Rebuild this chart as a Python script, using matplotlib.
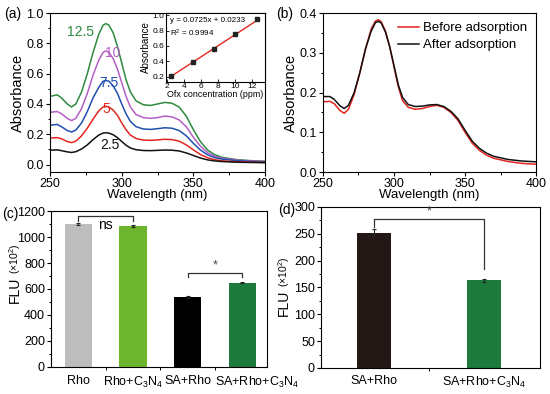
import matplotlib.pyplot as plt
import matplotlib.transforms as mtransforms
import numpy as np

plt.rcParams['font.family'] = ['Liberation Sans', 'DejaVu Sans']
plt.rcParams['mathtext.fontset'] = 'custom'
plt.rcParams['mathtext.rm'] = 'Liberation Sans'
plt.rcParams['mathtext.it'] = 'Liberation Sans'

# ---- data ----
wl = [250, 255, 258, 262, 265, 268, 272, 276, 280, 284, 287, 289, 291, 294, 297, 300,
      303, 306, 310, 315, 320, 325, 330, 335, 340, 345, 350, 355, 360, 365, 370, 380, 390, 400]

abs_12_5 = [0.45, 0.46, 0.44, 0.40, 0.38, 0.40, 0.48, 0.60, 0.74, 0.86, 0.92, 0.93, 0.92, 0.87, 0.78, 0.67,
            0.56, 0.48, 0.42, 0.395, 0.39, 0.40, 0.41, 0.405, 0.38, 0.32, 0.23, 0.15, 0.095, 0.065, 0.048, 0.033, 0.026, 0.022]
abs_10 = [0.345, 0.35, 0.335, 0.305, 0.29, 0.305, 0.37, 0.47, 0.59, 0.69, 0.74, 0.75, 0.74, 0.70, 0.63, 0.54,
          0.45, 0.38, 0.33, 0.31, 0.305, 0.31, 0.32, 0.315, 0.295, 0.25, 0.18, 0.12, 0.078, 0.055, 0.042, 0.03, 0.024, 0.02]
abs_7_5 = [0.26, 0.265, 0.25, 0.225, 0.215, 0.228, 0.275, 0.35, 0.44, 0.51, 0.55, 0.555, 0.55, 0.52, 0.47, 0.40,
           0.335, 0.285, 0.25, 0.235, 0.232, 0.237, 0.243, 0.24, 0.225, 0.19, 0.14, 0.095, 0.064, 0.046, 0.036, 0.026, 0.021, 0.018]
abs_5 = [0.175, 0.178, 0.17, 0.152, 0.145, 0.155, 0.19, 0.24, 0.30, 0.355, 0.38, 0.385, 0.38, 0.36, 0.325, 0.275,
         0.23, 0.195, 0.172, 0.162, 0.16, 0.163, 0.167, 0.165, 0.155, 0.13, 0.097, 0.066, 0.045, 0.032, 0.025, 0.019, 0.016, 0.014]
abs_2_5 = [0.095, 0.097, 0.092, 0.084, 0.08, 0.085, 0.103, 0.13, 0.165, 0.195, 0.208, 0.21, 0.208, 0.197, 0.178, 0.152,
           0.128, 0.11, 0.098, 0.093, 0.092, 0.094, 0.096, 0.095, 0.09, 0.077, 0.06, 0.043, 0.031, 0.024, 0.02, 0.016, 0.014, 0.013]

conc = [2.5, 5, 7.5, 10, 12.5]
conc_abs = [0.21, 0.385, 0.555, 0.75, 0.955]
slope, intercept = 0.0725, 0.0233

before = [0.177, 0.178, 0.172, 0.155, 0.148, 0.158, 0.195, 0.25, 0.31, 0.36, 0.38, 0.383, 0.378, 0.355, 0.315, 0.265,
          0.215, 0.18, 0.163, 0.158, 0.16, 0.165, 0.168, 0.163, 0.15, 0.13, 0.1, 0.073, 0.055, 0.043, 0.035, 0.027, 0.022, 0.02]
after = [0.19, 0.19, 0.183, 0.167, 0.16, 0.168, 0.2, 0.25, 0.31, 0.355, 0.376, 0.379, 0.375, 0.352, 0.315, 0.268,
         0.22, 0.188, 0.17, 0.165, 0.166, 0.169, 0.17, 0.165, 0.153, 0.134, 0.105, 0.078, 0.06, 0.048, 0.04, 0.032, 0.028, 0.026]

c_labels = ['Rho', 'Rho+C$_3$N$_4$', 'SA+Rho', 'SA+Rho+C$_3$N$_4$']
c_vals = [1100, 1085, 540, 648]
c_err = [8, 10, 8, 5]
c_colors = ['#bdbdbd', '#6cb52d', '#000000', '#1b7a3c']

d_labels = ['SA+Rho', 'SA+Rho+C$_3$N$_4$']
d_vals = [252, 163]
d_err = [7, 3]
d_colors = ['#231815', '#1b7a3c']

fig = plt.figure(figsize=(5.5, 3.94), dpi=100)
W, H = 550.0, 394.0

def style(ax):
    ax.tick_params(direction='out', length=3, width=0.8, labelsize=9, pad=1.5)
    ax.tick_params(which='minor', direction='out', length=1.8, width=0.7)
    for s in ax.spines.values():
        s.set_linewidth(0.8)

def flu_label(xpx, ypx_flu, ypx_exp):
    # "FLU" plus a smaller "(x10^2)", stacked along the rotated label
    fig.text(xpx / W, 1 - ypx_flu / H, 'FLU', rotation=90, fontsize=10, ha='center', va='center')
    fig.text(xpx / W, 1 - ypx_exp / H, '(×10$^2$)', rotation=90, fontsize=7.5, ha='center', va='center')

# (a)
ax1 = fig.add_axes([0.091, 0.563, 0.391, 0.404])
curves = [(abs_12_5, '#2e8b3f', '12.5', 271.5, 0.874),
          (abs_10, '#b45fc4', '10', 294, 0.735),
          (abs_7_5, '#1f4fb0', '7.5', 291, 0.535),
          (abs_5, '#e3261f', '5', 289, 0.37),
          (abs_2_5, '#111111', '2.5', 292, 0.13)]
for y, col, lab, tx, ty in curves:
    ax1.plot(wl, y, color=col, lw=1.1)
    ax1.text(tx, ty, lab, color=col, fontsize=10, ha='center', va='center')
ax1.set_xlim(250, 400)
ax1.set_ylim(-0.05, 1.0)
ax1.set_xticks([250, 300, 350, 400])
ax1.set_xticks([275, 325, 375], minor=True)
ax1.set_yticks([0.0, 0.2, 0.4, 0.6, 0.8, 1.0])
ax1.set_yticks(np.arange(0.1, 1.0, 0.2), minor=True)
ax1.set_xlabel('Wavelength (nm)', fontsize=9.5, labelpad=-1)
ax1.set_ylabel('Absorbance', fontsize=10.5, labelpad=1)
style(ax1)
fig.text(0.008, 0.965, '(a)', fontsize=10, va='center')

# inset
ins = fig.add_axes([0.302, 0.792, 0.180, 0.175])
xs = np.array([conc[0], conc[-1]])
ins.plot(xs, slope * xs + intercept, color='#e3261f', lw=1.0)
ins.plot(conc, conc_abs, 's', color='#222222', ms=2.2)
ins.set_xlim(1.9, 13.5)
ins.set_ylim(0.13, 1.03)
ins.set_xticks([2, 4, 6, 8, 10, 12])
ins.set_yticks([0.2, 0.4, 0.6, 0.8, 1.0])
ins.tick_params(direction='in', length=2, width=0.6, labelsize=6, pad=1)
ins.set_xlabel('Ofx concentration (ppm)', fontsize=6.4, labelpad=0)
ins.set_ylabel('Absorbance', fontsize=7, labelpad=1)
ins.text(2.3, 0.93, 'y = 0.0725x + 0.0233', fontsize=5.8, va='center')
ins.text(2.3, 0.77, 'R$^2$ = 0.9994', fontsize=5.8, va='center')
for s in ins.spines.values():
    s.set_linewidth(0.8)

# (b)
ax2 = fig.add_axes([0.587, 0.563, 0.388, 0.404])
ax2.plot(wl, before, color='#e3261f', lw=1.1, label='Before adsorption')
ax2.plot(wl, after, color='#111111', lw=1.1, label='After adsorption')
ax2.set_xlim(250, 400)
ax2.set_ylim(0, 0.4)
ax2.set_xticks([250, 300, 350, 400])
ax2.set_xticks([275, 325, 375], minor=True)
ax2.set_yticks([0.0, 0.1, 0.2, 0.3, 0.4])
ax2.set_yticks(np.arange(0.05, 0.4, 0.1), minor=True)
ax2.set_xlabel('Wavelength (nm)', fontsize=9.5, labelpad=-1)
ax2.set_ylabel('Absorbance', fontsize=10.5, labelpad=1)
ax2.legend(loc='upper right', frameon=False, fontsize=9.5, handlelength=1.6,
           handletextpad=0.3, labelspacing=0.35, borderaxespad=0.3)
style(ax2)
fig.text(0.502, 0.965, '(b)', fontsize=10, va='center')

# (c)
ax3 = fig.add_axes([0.093, 0.069, 0.392, 0.395])
xc = np.arange(len(c_vals))
ax3.bar(xc, c_vals, width=0.5, color=c_colors, yerr=c_err, capsize=1.5,
        error_kw=dict(elinewidth=0.8, capthick=0.8, ecolor='#222222'))
ax3.set_xlim(-0.5, 3.45)
ax3.set_ylim(0, 1200)
ax3.set_xticks(xc)
ax3.set_xticklabels(c_labels, fontsize=8.3)
ax3.set_xticks([0.5, 1.5, 2.5], minor=True)
ax3.set_yticks(np.arange(0, 1201, 200))
ax3.set_yticks(np.arange(100, 1200, 200), minor=True)
style(ax3)
ax3.tick_params(axis='x', which='major', length=0, pad=6)
# last label sits to the right of its bar, as in the original
shift = mtransforms.ScaledTranslation(0.15, 0, fig.dpi_scale_trans)
last = ax3.get_xticklabels()[-1]
last.set_transform(last.get_transform() + shift)
ax3.plot([0, 0, 1, 1], [1125, 1165, 1165, 1125], color='#333333', lw=0.9)
ax3.text(0.5, 1150, 'ns', fontsize=10, ha='center', va='top')
ax3.plot([2, 2, 3, 3], [690, 723, 723, 690], color='#333333', lw=0.9)
ax3.text(2.5, 735, '*', fontsize=9, ha='center', va='bottom', color='#444444')
flu_label(15, 290, 259)
fig.text(0.004, 0.457, '(c)', fontsize=10, va='center')

# (d)
ax4 = fig.add_axes([0.584, 0.066, 0.398, 0.409])
xd = np.arange(len(d_vals))
ax4.bar(xd, d_vals, width=0.31, color=d_colors, yerr=d_err, capsize=1.5,
        error_kw=dict(elinewidth=0.8, capthick=0.8, ecolor='#222222'))
ax4.set_xlim(-0.48, 1.51)
ax4.set_ylim(0, 300)
ax4.set_xticks(xd)
ax4.set_xticklabels(d_labels, fontsize=8.8)
ax4.set_xticks([0.5], minor=True)
ax4.set_yticks(np.arange(0, 301, 50))
ax4.set_yticks(np.arange(25, 300, 50), minor=True)
style(ax4)
ax4.tick_params(axis='x', which='major', length=0, pad=5)
ax4.plot([0, 0, 1, 1], [262, 278, 278, 184], color='#333333', lw=0.9)
ax4.text(0.5, 281, '*', fontsize=9, ha='center', va='bottom', color='#444444')
flu_label(284, 303, 272)
fig.text(0.505, 0.467, '(d)', fontsize=10, va='center')

fig.savefig('out.png', dpi=100)
